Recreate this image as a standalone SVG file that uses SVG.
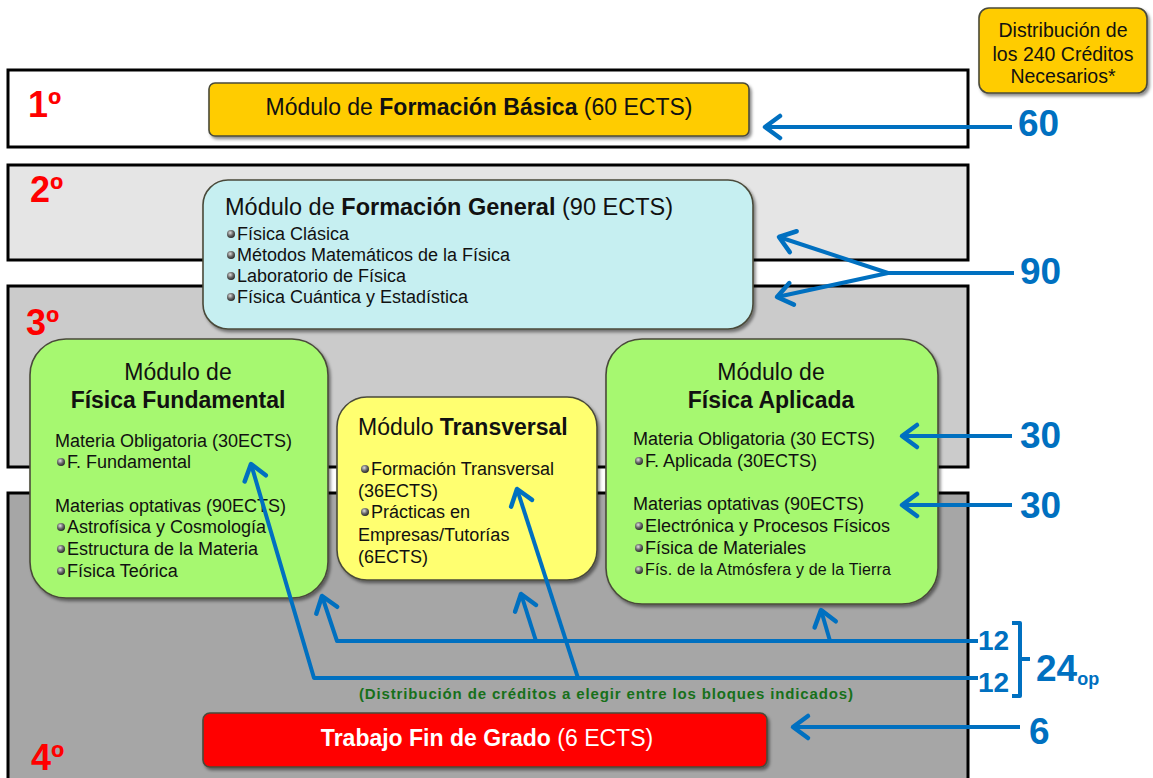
<svg xmlns="http://www.w3.org/2000/svg" width="1153" height="778" viewBox="0 0 1153 778">
<style>
.band{stroke:#000;stroke-width:3}
.box{stroke:#4a4a3a;stroke-width:1.6;filter:url(#sh)}
.t{font-family:"Liberation Sans",Arial,sans-serif;fill:#111}
.b{font-weight:bold}
.yr{font-family:"Liberation Sans",Arial,sans-serif;font-weight:bold;font-size:36px;fill:#ff0000}
.num{font-family:"Liberation Sans",Arial,sans-serif;font-weight:bold;fill:#0070c0}
.ln{fill:none;stroke:#0070c0;stroke-width:4;stroke-linejoin:round}
.ar{marker-end:url(#ah)}
</style>
<defs>
<filter id="sh" x="-5%" y="-5%" width="112%" height="115%">
<feDropShadow dx="2" dy="2.5" stdDeviation="1.5" flood-color="#000" flood-opacity="0.45"/>
</filter>
<radialGradient id="bul" cx="40%" cy="35%" r="65%">
<stop offset="0" stop-color="#e0e0e0"/><stop offset="0.55" stop-color="#6a6a6a"/><stop offset="1" stop-color="#2a2a2a"/>
</radialGradient>
<marker id="ah" markerUnits="userSpaceOnUse" markerWidth="24" markerHeight="30" viewBox="-19 -15 24 30" refX="0" refY="0" orient="auto">
<path d="M-15,-11 L0,0 L-15,11" fill="none" stroke="#0070c0" stroke-width="4.5" stroke-linecap="round" stroke-linejoin="round"/>
</marker>
</defs>

<g id="bands">
<rect class="band" x="8" y="70" width="960" height="77" fill="#ffffff"/>
<rect class="band" x="8" y="165" width="960" height="95" fill="#e5e5e5"/>
<rect class="band" x="8" y="286" width="960" height="181" fill="#cbcbcb"/>
<rect class="band" x="8" y="493" width="960" height="300" fill="#a6a6a6"/>
<text class="yr" x="28" y="117">1º</text>
<text class="yr" x="30" y="202">2º</text>
<text class="yr" x="26" y="335">3º</text>
<text class="yr" x="31" y="770">4º</text>
</g>

<g id="node-distribucion">
<rect class="box" x="979" y="8" width="168" height="85" rx="10" fill="#ffcc00"/>
<text class="t" font-size="19.5" text-anchor="middle" x="1063" y="37">Distribución de</text>
<text class="t" font-size="19.5" text-anchor="middle" x="1063" y="61">los 240 Créditos</text>
<text class="t" font-size="19.5" text-anchor="middle" x="1063" y="83">Necesarios*</text>
</g>

<g id="node-basica">
<rect class="box" x="209" y="83" width="540" height="53" rx="6" fill="#ffcc00"/>
<text class="t" font-size="23" text-anchor="middle" x="479" y="115">Módulo de <tspan class="b">Formación Básica</tspan> (60 ECTS)</text>
</g>

<g id="node-general">
<rect class="box" x="203" y="180" width="550" height="149" rx="25" fill="#c6eff1"/>
<text class="t" font-size="23.5" x="225" y="215">Módulo de <tspan class="b">Formación General</tspan> (90 ECTS)</text>
<circle cx="231" cy="234" r="4" fill="url(#bul)"/>
<text class="t" font-size="18" x="237" y="240">Física Clásica</text>
<circle cx="231" cy="255" r="4" fill="url(#bul)"/>
<text class="t" font-size="18" x="237" y="261">Métodos Matemáticos de la Física</text>
<circle cx="231" cy="276" r="4" fill="url(#bul)"/>
<text class="t" font-size="18" x="237" y="282">Laboratorio de Física</text>
<circle cx="231" cy="297" r="4" fill="url(#bul)"/>
<text class="t" font-size="18" x="237" y="303">Física Cuántica y Estadística</text>
</g>

<g id="node-fundamental">
<rect class="box" x="30" y="339" width="298" height="259" rx="36" fill="#a6f870"/>
<text class="t" font-size="23" text-anchor="middle" x="178" y="380">Módulo de</text>
<text class="t b" font-size="23" text-anchor="middle" x="178" y="408">Física Fundamental</text>
<text class="t" font-size="18" x="55" y="447">Materia Obligatoria  (30ECTS)</text>
<circle cx="61" cy="462" r="4" fill="url(#bul)"/>
<text class="t" font-size="18" x="67" y="468">F. Fundamental</text>
<text class="t" font-size="18" x="55" y="512">Materias optativas  (90ECTS)</text>
<circle cx="61" cy="527" r="4" fill="url(#bul)"/>
<text class="t" font-size="18" x="67" y="533">Astrofísica y Cosmología</text>
<circle cx="61" cy="549" r="4" fill="url(#bul)"/>
<text class="t" font-size="18" x="67" y="555">Estructura de la Materia</text>
<circle cx="61" cy="571" r="4" fill="url(#bul)"/>
<text class="t" font-size="18" x="67" y="577">Física Teórica</text>
</g>

<g id="node-transversal">
<rect class="box" x="337" y="397" width="260" height="183" rx="30" fill="#ffff70"/>
<text class="t" font-size="23" x="358" y="435">Módulo <tspan class="b">Transversal</tspan></text>
<circle cx="365" cy="469" r="4" fill="url(#bul)"/>
<text class="t" font-size="18" x="371" y="475">Formación Transversal</text>
<text class="t" font-size="18" x="358" y="497">(36ECTS)</text>
<circle cx="365" cy="512" r="4" fill="url(#bul)"/>
<text class="t" font-size="18" x="371" y="518">Prácticas en</text>
<text class="t" font-size="18" x="358" y="541">Empresas/Tutorías</text>
<text class="t" font-size="18" x="358" y="563">(6ECTS)</text>
</g>

<g id="node-aplicada">
<rect class="box" x="606" y="339" width="332" height="265" rx="36" fill="#a6f870"/>
<text class="t" font-size="23" text-anchor="middle" x="771" y="380">Módulo de</text>
<text class="t b" font-size="23" text-anchor="middle" x="771" y="408">Física Aplicada</text>
<text class="t" font-size="18" x="633" y="445">Materia Obligatoria  (30 ECTS)</text>
<circle cx="639" cy="461" r="4" fill="url(#bul)"/>
<text class="t" font-size="18" x="645" y="467">F. Aplicada (30ECTS)</text>
<text class="t" font-size="18" x="633" y="510">Materias optativas  (90ECTS)</text>
<circle cx="639" cy="526" r="4" fill="url(#bul)"/>
<text class="t" font-size="18" x="645" y="532">Electrónica y Procesos Físicos</text>
<circle cx="639" cy="548" r="4" fill="url(#bul)"/>
<text class="t" font-size="18" x="645" y="554">Física de Materiales</text>
<circle cx="639" cy="570" r="4" fill="url(#bul)"/>
<text class="t" font-size="16" x="645" y="575" letter-spacing="0.2">Fís. de la Atmósfera y de la Tierra</text>
</g>

<g id="node-tfg">
<rect class="box" x="203" y="713" width="564" height="54" rx="7" fill="#ff0000"/>
<text class="t" font-size="23" text-anchor="middle" x="487" y="746" style="fill:#ffffff"><tspan class="b">Trabajo Fin de Grado</tspan> (6 ECTS)</text>
</g>

<g id="note">
<text class="t b" font-size="15" x="359" y="699" textLength="494" lengthAdjust="spacing" style="fill:#17701a">(Distribución de créditos a elegir entre los bloques indicados)</text>
</g>

<g id="connectors">
<line class="ln ar" x1="1012" y1="127" x2="765" y2="127"/>
<polyline class="ln" points="1014,273 888,273"/>
<line class="ln ar" x1="888" y1="273" x2="779" y2="237"/>
<line class="ln ar" x1="888" y1="273" x2="777" y2="297"/>
<line class="ln ar" x1="1012" y1="436" x2="902" y2="436"/>
<line class="ln ar" x1="1012" y1="505" x2="902" y2="505"/>
<polyline class="ln ar" points="978,641 337,641 322,596"/>
<line class="ln ar" x1="536" y1="641" x2="521" y2="594"/>
<line class="ln ar" x1="830" y1="641" x2="821" y2="610"/>
<polyline class="ln ar" points="978,678 314,678 251,464"/>
<line class="ln ar" x1="578" y1="678" x2="517" y2="489"/>
<line class="ln ar" x1="1020" y1="727" x2="793" y2="727"/>
<polyline class="ln" points="1012,623 1020,623 1020,696 1012,696"/>
<line class="ln" x1="1020" y1="659" x2="1030" y2="659"/>
</g>

<g id="labels">
<text class="num" font-size="37" x="1018" y="136">60</text>
<text class="num" font-size="37" x="1020" y="284">90</text>
<text class="num" font-size="37" x="1020" y="448">30</text>
<text class="num" font-size="37" x="1020" y="518">30</text>
<text class="num" font-size="28" x="978" y="650">12</text>
<text class="num" font-size="28" x="978" y="692">12</text>
<text class="num" font-size="37" x="1036" y="681">24<tspan font-size="18" dy="4">op</tspan></text>
<text class="num" font-size="37" x="1029" y="744">6</text>
</g>
</svg>
